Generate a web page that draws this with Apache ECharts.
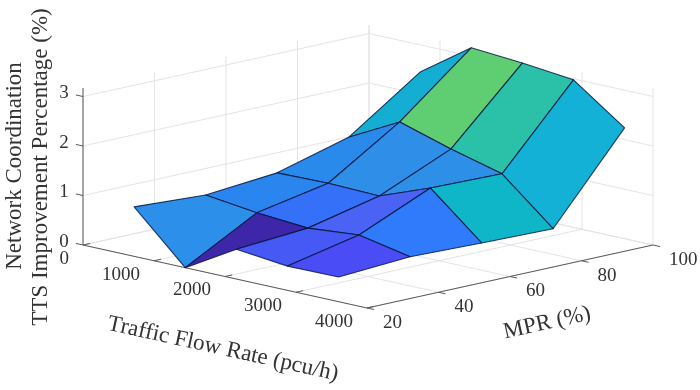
<!DOCTYPE html>
<html>
<head>
<meta charset="utf-8">
<style>
  html, body { margin: 0; padding: 0; background: #fff; }
  #surface-chart { width: 700px; height: 390px; }
</style>
<script src="https://cdn.jsdelivr.net/npm/echarts@6/dist/echarts.min.js"></script>
</head>
<body>
<div id="surface-chart"></div>
<script>
// data
const flowRates = [720, 1440, 2160, 2880, 3600];
const mprLevels = [20, 40, 60, 80, 100];
// one row per flow rate, one column per MPR level
const improvement720 = [1.00, 0.92, 1.05, 1.45, 2.45];
const improvement1440 = [0.00, 0.79, 1.07, 1.99, 3.17];
const improvement2160 = [0.60, 0.71, 1.04, 1.67, 3.09];
const improvement2880 = [0.49, 0.80, 1.43, 1.40, 2.98];
const improvement3600 = [0.50, 0.59, 0.55, 0.52, 2.24];
const improvement = [improvement720, improvement1440, improvement2160, improvement2880, improvement3600];

const flowTicks = [0, 1000, 2000, 3000, 4000];
const mprTicks = [20, 40, 60, 80, 100];
const zTicks = [0, 1, 2, 3];
const zTop = 3.17;

// flat colour of each face (same row/column order as the cells)
const faceColors = [
  ['#2c8fea', '#2a86ee', '#2a8aec', '#14aed2'],
  ['#3d27a8', '#3570f8', '#2e8ee8', '#5fcd72'],
  ['#4659f5', '#4a63f5', '#2e8fe8', '#2bc1a8'],
  ['#4a4cf5', '#2f7bfb', '#0fb6c8', '#12b1d5']
];

const gridColor = '#e4e4e4';
const axisColor = '#5a5a5a';
const textColor = '#333';
const edgeColor = 'rgba(5, 20, 60, 0.82)';
const fontFamily = '"Liberation Serif", serif';

// fixed 3d view: data goes to the page plane, the hidden axes do the rest
function project(flow, mpr, z) {
  return [
    83 + flow * 0.071 + (mpr - 20) * 3.575,
    245 + flow * 0.01575 - (mpr - 20) * 0.7875 - z * 49.5
  ];
}

function polyline(api, pts, color, width) {
  return {
    type: 'polyline',
    shape: { points: pts.map(p => api.coord(p)) },
    style: { stroke: color, lineWidth: width, fill: null }
  };
}

function label(api, pos, text, size, align, rotation) {
  const c = api.coord(pos);
  return {
    type: 'text',
    x: c[0],
    y: c[1],
    rotation: rotation || 0,
    style: {
      text: text,
      x: 0,
      y: 0,
      fill: textColor,
      font: size + 'px ' + fontFamily,
      textAlign: align || 'center',
      textVerticalAlign: 'middle'
    }
  };
}

const flowMax = flowTicks[flowTicks.length - 1];
const mprMin = mprTicks[0];
const mprMax = mprTicks[mprTicks.length - 1];

// back walls and floor
const gridLines = [];
zTicks.forEach(z => {
  gridLines.push([project(0, mprMin, z), project(0, mprMax, z), project(flowMax, mprMax, z)]);
});
mprTicks.forEach(m => {
  gridLines.push([project(flowMax, m, 0), project(0, m, 0), project(0, m, zTop)]);
});
flowTicks.forEach(f => {
  gridLines.push([project(f, mprMin, 0), project(f, mprMax, 0), project(f, mprMax, zTop)]);
});

// axis lines and ticks
const axisLines = [
  [project(0, mprMin, 0), project(flowMax, mprMin, 0), project(flowMax, mprMax, 0)],
  [project(0, mprMin, 0), project(0, mprMin, zTop)]
];
flowTicks.forEach(f => {
  axisLines.push([project(f, mprMin, 0), project(f, mprMin + 2, 0)]);
});
mprTicks.forEach(m => {
  axisLines.push([project(flowMax, m, 0), project(flowMax + 100, m, 0)]);
});
zTicks.forEach(z => {
  axisLines.push([project(0, mprMin, z), project(-100, mprMin, z)]);
});

// faces, far to near so the near ones paint over
const faces = [];
for (let j = mprLevels.length - 2; j >= 0; j--) {
  for (let i = 0; i < flowRates.length - 1; i++) {
    faces.push({
      color: faceColors[i][j],
      pts: [[i, j], [i + 1, j], [i + 1, j + 1], [i, j + 1]].map(([a, b]) =>
        project(flowRates[a], mprLevels[b], improvement[a][b]))
    });
  }
}

const tickLabels = [];
flowTicks.forEach(f => {
  const p = project(f, mprMin, 0);
  tickLabels.push({ pos: [p[0] - 14, p[1] + 14], text: String(f), align: 'right' });
});
mprTicks.forEach(m => {
  const p = project(flowMax, m, 0);
  tickLabels.push({ pos: [p[0] + 16, p[1] + 15], text: String(m), align: 'left' });
});
zTicks.forEach(z => {
  const p = project(0, mprMin, z);
  tickLabels.push({ pos: [p[0] - 19, p[1] - 3], text: String(z), align: 'center' });
});

const titles = [
  { pos: [223, 349], text: 'Traffic Flow Rate (pcu/h)', size: 23, rotation: -0.218 },
  { pos: [547, 323], text: 'MPR (%)', size: 23, rotation: 0.218 },
  { pos: [15, 166], text: 'Network Coordination', size: 23, rotation: Math.PI / 2 },
  { pos: [41, 167], text: 'TTS Improvement Percentage (%)', size: 23, rotation: Math.PI / 2 }
];

const chart = echarts.init(document.getElementById('surface-chart'));

chart.setOption({
  animation: false,
  backgroundColor: '#fff',
  grid: { left: 0, right: 0, top: 0, bottom: 0 },
  xAxis: { type: 'value', min: 0, max: 700, show: false },
  yAxis: { type: 'value', min: 0, max: 390, inverse: true, show: false },
  series: [
    {
      type: 'custom',
      silent: true,
      data: gridLines.map((_, i) => [i]),
      encode: { x: 0 },
      renderItem: (params, api) => polyline(api, gridLines[params.dataIndex], gridColor, 1)
    },
    {
      type: 'custom',
      silent: true,
      data: axisLines.map((_, i) => [i]),
      encode: { x: 0 },
      renderItem: (params, api) => polyline(api, axisLines[params.dataIndex], axisColor, 1)
    },
    {
      type: 'custom',
      silent: true,
      data: faces.map((_, i) => [i]),
      encode: { x: 0 },
      renderItem: (params, api) => {
        const face = faces[params.dataIndex];
        return {
          type: 'polygon',
          shape: { points: face.pts.map(p => api.coord(p)) },
          style: { fill: face.color, stroke: edgeColor, lineWidth: 1.1, lineJoin: 'round' }
        };
      }
    },
    {
      type: 'custom',
      silent: true,
      data: tickLabels.map((_, i) => [i]),
      encode: { x: 0 },
      renderItem: (params, api) => {
        const t = tickLabels[params.dataIndex];
        return label(api, t.pos, t.text, 19, t.align);
      }
    },
    {
      type: 'custom',
      silent: true,
      data: titles.map((_, i) => [i]),
      encode: { x: 0 },
      renderItem: (params, api) => {
        const t = titles[params.dataIndex];
        return label(api, t.pos, t.text, t.size, 'center', t.rotation);
      }
    }
  ]
});
</script>
</body>
</html>
